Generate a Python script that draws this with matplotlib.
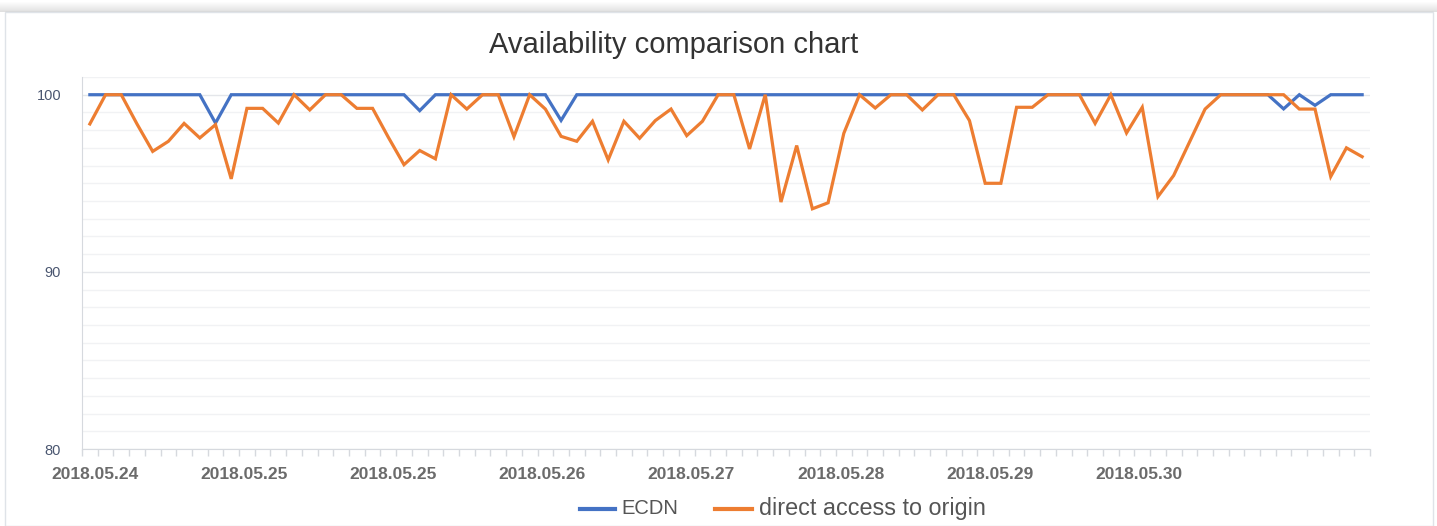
import matplotlib
matplotlib.use("Agg")
import matplotlib.pyplot as plt
from matplotlib.lines import Line2D
from matplotlib.patches import Rectangle
import numpy as np

plt.rcParams["font.family"] = ["Liberation Sans", "DejaVu Sans"]

# availability (%) per sample, 82 samples over 2018.05.24 - 2018.05.30
ecdn = [100, 100, 100, 100, 100, 100, 100, 100, 98.4, 100,
        100, 100, 100, 100, 100, 100, 100, 100, 100, 100,
        100, 99.1, 100, 100, 100, 100, 100, 100, 100, 100,
        98.55, 100, 100, 100, 100, 100, 100, 100, 100, 100,
        100, 100, 100, 100, 100, 100, 100, 100, 100, 100,
        100, 100, 100, 100, 100, 100, 100, 100, 100, 100,
        100, 100, 100, 100, 100, 100, 100, 100, 100, 100,
        100, 100, 100, 100, 100, 100, 99.2, 100, 99.4, 100,
        100, 100]
origin = [98.35, 100, 100, 98.35, 96.8, 97.37, 98.38, 97.56, 98.31, 95.25,
          99.23, 99.23, 98.4, 100, 99.14, 100, 100, 99.23, 99.23, 97.6,
          96.05, 96.85, 96.38, 100, 99.19, 100, 100, 97.63, 100, 99.19,
          97.65, 97.37, 98.5, 96.32, 98.5, 97.54, 98.54, 99.19, 97.69, 98.5,
          100, 100, 96.94, 100, 93.94, 97.13, 93.56, 93.9, 97.82, 100,
          99.25, 100, 100, 99.14, 100, 100, 98.54, 95.0, 95.0, 99.29,
          99.29, 100, 100, 100, 98.38, 100, 97.84, 99.29, 94.25, 95.44,
          97.31, 99.19, 100, 100, 100, 100, 100, 99.19, 99.19, 95.38,
          97.0, 96.5]
date_labels = ["2018.05.24", "2018.05.25", "2018.05.25", "2018.05.26",
               "2018.05.27", "2018.05.28", "2018.05.29", "2018.05.30"]
y_ticks = [80, 90, 100]

BLUE, ORANGE = "#4472C4", "#ED7D31"
W, H = 1437, 526

fig = plt.figure(figsize=(W / 100, H / 100), dpi=100)
# card frame with a faint top shadow
fig.patches.append(Rectangle((5 / W, 0), 1428 / W, 514 / H, transform=fig.transFigure,
                             fill=False, edgecolor="#dfe3e8", lw=1))
for k in range(10):
    fig.patches.append(Rectangle((0, (514 + k) / H), 1, 1 / H, transform=fig.transFigure,
                                 color="#000000", alpha=0.012 * (10 - k), lw=0))

ax = fig.add_axes([82 / W, 1 - 449 / H, 1288 / W, 372 / H])
x = np.arange(len(origin))
ax.plot(x, ecdn, color=BLUE, lw=2.3, solid_joinstyle="miter", zorder=3)
ax.plot(x, origin, color=ORANGE, lw=2.3, solid_joinstyle="miter", zorder=4)

ax.set_xlim(-0.5, len(origin) - 0.5)
ax.set_ylim(80, 101)

# gridlines: major at 10s, minor every 1
for v in range(80, 102):
    ax.axhline(v, color="#e4e6ea" if v % 10 == 0 else "#f1f2f4", lw=1, zorder=1)

ax.set_yticks(y_ticks)
ax.set_yticklabels([str(v) for v in y_ticks], color="#4a5670", fontsize=10.5)
ax.tick_params(axis="y", length=0, pad=15)

ax.set_xticks(0.3 + 9.5 * np.arange(len(date_labels)))
ax.set_xticklabels(date_labels, color="#6b6b6b", fontsize=12.5, fontweight="bold")
ax.tick_params(axis="x", which="major", length=0, pad=13)
ax.set_xticks(np.arange(-0.5, len(origin)), minor=True)
ax.tick_params(axis="x", which="minor", length=5, color="#d6d9de", width=1)

for s in ["top", "right"]:
    ax.spines[s].set_visible(False)
ax.spines["left"].set_color("#d6d9de")
ax.spines["bottom"].set_color("#d6d9de")

fig.text(674 / W, 1 - 45 / H, "Availability comparison chart", ha="center", va="center",
         fontsize=21, color="#333333")

# legend, laid out by hand below the axis
ly = 1 - 509 / H
fig.add_artist(Line2D([580 / W, 615 / W], [ly, ly], color=BLUE, lw=3, transform=fig.transFigure))
fig.text(621 / W, ly, "ECDN", ha="left", va="center", fontsize=14.5, color="#555555")
fig.add_artist(Line2D([715 / W, 752 / W], [ly, ly], color=ORANGE, lw=3, transform=fig.transFigure))
fig.text(759 / W, ly, "direct access to origin", ha="left", va="center", fontsize=16.8,
         color="#555555")

fig.savefig("out.png", dpi=100)
